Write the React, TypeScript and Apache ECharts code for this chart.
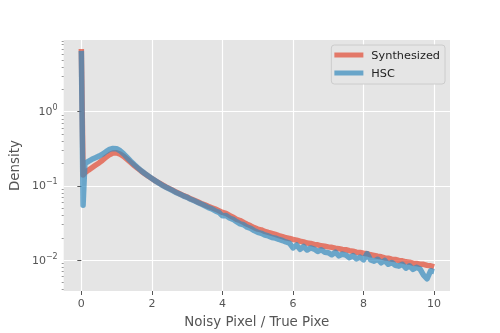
import React, { useEffect, useRef } from "react";
import * as echarts from "echarts";

const xValues = [
  0, 0.05, 0.1, 0.2, 0.3, 0.4, 0.5, 0.6, 0.7, 0.8, 0.9, 1.0,
  1.1, 1.2, 1.3, 1.4, 1.5, 1.6, 1.7, 1.8, 1.9, 2.0,
  2.1, 2.2, 2.3, 2.4, 2.5, 2.6, 2.7, 2.8, 2.9, 3.0,
  3.1, 3.2, 3.3, 3.4, 3.5, 3.6, 3.7, 3.8, 3.9, 4.0,
  4.1, 4.2, 4.3, 4.4, 4.5, 4.6, 4.7, 4.8, 4.9, 5.0,
  5.1, 5.2, 5.3, 5.4, 5.5, 5.6, 5.7, 5.8, 5.9, 6.0,
  6.1, 6.2, 6.3, 6.4, 6.5, 6.6, 6.7, 6.8, 6.9, 7.0,
  7.1, 7.2, 7.3, 7.4, 7.5, 7.6, 7.7, 7.8, 7.9, 8.0,
  8.1, 8.2, 8.3, 8.4, 8.5, 8.6, 8.7, 8.8, 8.9, 9.0,
  9.1, 9.2, 9.3, 9.4, 9.5, 9.6, 9.7, 9.8, 9.9, 10.0,
];

const synthesized = [
  7.0, 0.14, 0.15, 0.163, 0.176, 0.19, 0.204, 0.222, 0.244, 0.264, 0.277, 0.279,
  0.268, 0.25, 0.228, 0.207, 0.188, 0.172, 0.158, 0.146, 0.135, 0.126,
  0.117, 0.11, 0.103, 0.097, 0.092, 0.087, 0.082, 0.078, 0.074, 0.071,
  0.067, 0.064, 0.061, 0.058, 0.0555, 0.053, 0.0508, 0.0487, 0.0463, 0.044,
  0.0426, 0.04, 0.0379, 0.0355, 0.0342, 0.0322, 0.0305, 0.029, 0.0274, 0.0262,
  0.0256, 0.0244, 0.0236, 0.0229, 0.0222, 0.0214, 0.0208, 0.02, 0.0196, 0.019,
  0.0186, 0.018, 0.0176, 0.017, 0.0168, 0.0163, 0.0161, 0.0156, 0.0154, 0.0151,
  0.0149, 0.0145, 0.0143, 0.0139, 0.0138, 0.0134, 0.0132, 0.0128, 0.0127, 0.0124,
  0.0122, 0.0118, 0.0116, 0.0113, 0.0111, 0.0107, 0.0106, 0.0103, 0.0102, 0.0099,
  0.0098, 0.0095, 0.0094, 0.0091, 0.009, 0.0088, 0.0088, 0.0085, 0.0084, 0.0081,
];

const hsc = [
  6.6, 0.055, 0.2, 0.214, 0.228, 0.24, 0.252, 0.268, 0.29, 0.31, 0.32, 0.317,
  0.298, 0.27, 0.242, 0.216, 0.194, 0.176, 0.16, 0.147, 0.136, 0.126,
  0.117, 0.109, 0.102, 0.096, 0.091, 0.086, 0.081, 0.077, 0.073, 0.07,
  0.066, 0.063, 0.06, 0.057, 0.054, 0.051, 0.049, 0.046, 0.044, 0.0395,
  0.04, 0.037, 0.0355, 0.033, 0.0308, 0.03, 0.0278, 0.0268, 0.025, 0.0237,
  0.023, 0.0218, 0.0212, 0.0202, 0.0198, 0.019, 0.0184, 0.0176, 0.017, 0.0146,
  0.016, 0.014, 0.0153, 0.0137, 0.0146, 0.0141, 0.0131, 0.0138, 0.0128, 0.0126,
  0.0118, 0.0128, 0.0114, 0.0121, 0.0117, 0.0108, 0.0115, 0.0104, 0.011, 0.0101,
  0.0122, 0.0101, 0.0097, 0.0103, 0.0092, 0.0099, 0.0088, 0.0093, 0.0085, 0.0083,
  0.0088, 0.0078, 0.0084, 0.0075, 0.008, 0.0076, 0.0063, 0.0056, 0.0072, 0.007,
];

const xTicks = [0, 2, 4, 6, 8, 10];
const yMajorTicks = [0.01, 0.1, 1];
const yMajorExponents: Record<string, string> = { "0.01": "−2", "0.1": "−1", "1": "0" };
const yMinorTicks = [
  0.004, 0.005, 0.006, 0.007, 0.008, 0.009,
  0.02, 0.03, 0.04, 0.05, 0.06, 0.07, 0.08, 0.09,
  0.2, 0.3, 0.4, 0.5, 0.6, 0.7, 0.8, 0.9,
  2, 3, 4, 5, 6, 7, 8, 9,
];

const FONT = "DejaVu Sans";
const GRAY = "#555555";

export default function App() {
  const ref = useRef<HTMLDivElement>(null);
  useEffect(() => {
    if (!ref.current) return;
    const chart = echarts.init(ref.current, null, { renderer: "svg" });
    const redData = xValues.map((x, i) => [x, synthesized[i]]);
    const blueData = xValues.map((x, i) => [x, hsc[i]]);
    const yMin = 0.00384;
    const yMax = 9.25;
    chart.setOption({
      animation: false,
      textStyle: { fontFamily: FONT },
      grid: {
        left: 63,
        right: 50,
        top: 40,
        bottom: 42,
        show: true,
        backgroundColor: "#E5E5E5",
        borderWidth: 0,
      },
      legend: {
        orient: "vertical",
        right: 55,
        top: 45,
        backgroundColor: "#E5E5E5",
        borderColor: "#cccccc",
        borderWidth: 1,
        borderRadius: 3,
        padding: [3, 5, 4, 3],
        itemWidth: 29,
        itemHeight: 5,
        itemGap: 4,
        textStyle: { fontFamily: FONT, fontSize: 11.3, color: "#222", lineHeight: 14, padding: [0, 0, 0, 3] },
        data: [
          { name: "Synthesized", icon: "rect", itemStyle: { color: "rgba(226,74,51,0.7)" } },
          { name: "HSC", icon: "rect", itemStyle: { color: "rgba(52,138,189,0.7)" } },
        ],
      },
      xAxis: {
        type: "value",
        min: -0.5,
        max: 10.45,
        name: "Noisy Pixel / True Pixe",
        nameLocation: "middle",
        nameGap: 24,
        nameTextStyle: { fontFamily: FONT, fontSize: 13.4, color: GRAY },
        axisLine: { show: false },
        axisTick: { show: true, customValues: xTicks, length: 4, lineStyle: { color: GRAY } },
        axisLabel: {
          customValues: xTicks,
          margin: 7,
          fontFamily: FONT,
          fontSize: 11,
          color: GRAY,
        },
        splitLine: { show: true, lineStyle: { color: "#ffffff", width: 1.2 } },
      },
      yAxis: [
        {
          type: "log",
          logBase: 10,
          min: yMin,
          max: yMax,
          name: "Density",
          nameLocation: "middle",
          nameGap: 40,
          nameRotate: 90,
          nameTextStyle: { fontFamily: FONT, fontSize: 13.4, color: GRAY },
          axisLine: { show: false },
          axisTick: { show: true, customValues: yMajorTicks, length: 4, lineStyle: { color: GRAY } },
          axisLabel: {
            customValues: yMajorTicks,
            margin: 6,
            fontFamily: FONT,
            fontSize: 11,
            color: GRAY,
            formatter: (v: number) => {
              const key = String(Math.round(v * 1000) / 1000);
              const e = yMajorExponents[key];
              return e === undefined ? "" : `{b|10}{e|${e}}`;
            },
            rich: {
              b: { fontFamily: FONT, fontSize: 11, color: GRAY },
              e: { fontFamily: FONT, fontSize: 8, color: GRAY, padding: [0, 0, 8, 0] },
            },
          },
          splitLine: { show: true, lineStyle: { color: "#ffffff", width: 1.2 } },
        },
        {
          type: "log",
          logBase: 10,
          min: yMin,
          max: yMax,
          position: "left",
          axisLine: { show: false },
          axisTick: { show: true, customValues: yMinorTicks, length: 2, lineStyle: { color: GRAY, width: 0.6 } },
          axisLabel: { show: false },
          splitLine: { show: false },
        },
      ],
      series: [
        {
          name: "Synthesized",
          type: "line",
          data: redData,
          showSymbol: false,
          symbol: "none",
          lineStyle: { color: "rgba(226,74,51,0.7)", width: 5.5, join: "round", cap: "butt" },
          itemStyle: { color: "rgba(226,74,51,0.7)" },
        },
        {
          name: "HSC",
          type: "line",
          data: blueData,
          showSymbol: false,
          symbol: "none",
          lineStyle: { color: "rgba(52,138,189,0.7)", width: 5.5, join: "round", cap: "butt" },
          itemStyle: { color: "rgba(52,138,189,0.7)" },
        },
      ],
    });
    return () => chart.dispose();
  }, []);
  return <div ref={ref} style={{ position: "fixed", left: 0, top: 0, width: 500, height: 333 }} />;
}
